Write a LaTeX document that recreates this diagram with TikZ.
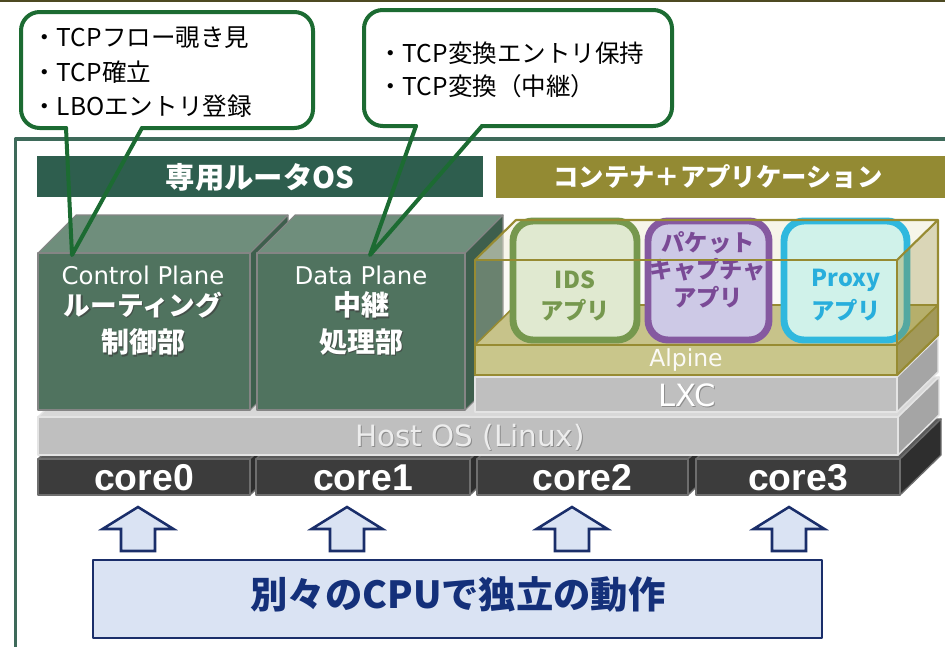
\documentclass[tikz,border=0pt]{standalone}
\usepackage{fontspec}
\setmainfont{Noto Sans CJK JP}
\newfontfamily\latinsans{DejaVu Sans}
\newfontfamily\arialike{Liberation Sans}
\definecolor{rulebar}{HTML}{4D4A22}
\definecolor{framegreen}{HTML}{3E6A5A}
\definecolor{hdgreen}{HTML}{2E5E4E}
\definecolor{hdolive}{HTML}{938A33}
\definecolor{callgreen}{HTML}{1C6B32}
\definecolor{gbfront}{HTML}{50735F}
\definecolor{gbtop}{HTML}{6F8E7C}
\definecolor{gbside}{HTML}{3E5F4D}
\definecolor{gbedge}{HTML}{858585}
\definecolor{osfront}{HTML}{BFBFBF}
\definecolor{ostop}{HTML}{D8D8D8}
\definecolor{osside}{HTML}{A5A5A5}
\definecolor{osedge}{HTML}{E4E4E4}
\definecolor{corefront}{HTML}{3C3C3C}
\definecolor{coretop}{HTML}{5A5A5A}
\definecolor{coreside}{HTML}{2E2E2E}
\definecolor{coreedge}{HTML}{6E6E6E}
\definecolor{alpfront}{HTML}{C9C68B}
\definecolor{alptop}{HTML}{C7C38A}
\definecolor{alpside}{HTML}{A9A270}
\definecolor{olivebox}{HTML}{978B32}
\definecolor{cream}{HTML}{EFEDD8}
\definecolor{idsline}{HTML}{76984E}
\definecolor{idsfill}{HTML}{E0E9D0}
\definecolor{pcline}{HTML}{8559A0}
\definecolor{pctext}{HTML}{7A4A96}
\definecolor{pcfill}{HTML}{CDC9E6}
\definecolor{pxline}{HTML}{2FB8DE}
\definecolor{pxtext}{HTML}{28AEDC}
\definecolor{pxfill}{HTML}{D0F2EA}
\definecolor{navy}{HTML}{1A2E6A}
\definecolor{navytext}{HTML}{14307A}
\definecolor{paleblue}{HTML}{DAE3F3}
\tikzset{
  calltext/.style={inner sep=0pt, anchor=west, font=\fontsize{18.4}{22}\selectfont},
  callbody/.style={draw=callgreen, line width=3pt, rounded corners=14pt, line cap=round},
  callptr/.style={draw=callgreen, line width=3pt, line cap=round, line join=round},
  hdtext/.style={inner sep=0pt, text=white, font=\bfseries\fontsize{22}{26}\selectfont},
  hdtexttwo/.style={inner sep=0pt, text=white, font=\bfseries\fontsize{19}{23}\selectfont},
  gbface/.style={draw=gbedge, line width=0.8pt},
  planetext/.style={inner sep=0pt, text=white, font=\latinsans\fontsize{18.3}{22}\selectfont},
  boldwhite/.style={inner sep=0pt, text=white, font=\bfseries\fontsize{#1}{24}\selectfont},
  boldshadow/.style={inner sep=0pt, text=black!75, opacity=0.7, font=\bfseries\fontsize{#1}{24}\selectfont},
  osface/.style={draw=osedge, line width=1.1pt},
  coreface/.style={draw=coreedge, line width=1pt},
  coretext/.style={inner sep=0pt, text=white, font=\arialike\bfseries\fontsize{28}{32}\selectfont},
  graytext/.style={inner sep=0pt, font=\latinsans\fontsize{#1}{#1}\selectfont},
  alpface/.style={draw=olivebox, line width=1.2pt},
  appbox/.style={line width=5.2pt, rounded corners=15pt},
  apptext/.style={inner sep=0pt, font=\bfseries\fontsize{17.5}{20}\selectfont},
  uparrow/.style={draw=navy, fill=paleblue, line width=1.9pt, line join=miter},
}
\begin{document}
\begin{tikzpicture}[x=0.75pt,y=-0.75pt,line join=round]
\useasboundingbox (0,0) rectangle (945,646);
\fill[white] (0,0) rectangle (945,646);

% thin rule along the top edge and the outer frame
\draw[rulebar, line width=1.8pt] (0,1.2) -- (945,1.2);
\draw[framegreen, line width=2.6pt] (15.5,650) -- (15.5,139) -- (950,139);

% section headers
\fill[hdgreen] (37,156) rectangle (483,197);
\node[hdtext] (hdos) at (260,177) {専用ルータOS};
\fill[hdolive] (496,156) rectangle (950,198);
\node[hdtexttwo] (hdapp) at (718,177) {コンテナ＋アプリケーション};

% CPU cores
\foreach \a/\b/\n in {38/250/0,256/470/1,477/688/2,696/900/3}{
  \filldraw[coreface, fill=coretop] (\a,459) -- (\a+41,419) -- (\b+41,419) -- (\b,459) -- cycle;
  \filldraw[coreface, fill=coreside] (\b,459) -- (\b+41,419) -- (\b+41,455) -- (\b,495) -- cycle;
  \filldraw[coreface, fill=corefront] (\a,459) rectangle (\b,495);
  \node[coretext] (core\n) at ({(\a+\b)/2},478) {core\n};
}

% host OS slab
\filldraw[osface, fill=ostop] (38,417) -- (79,377) -- (939,377) -- (898,417) -- cycle;
\filldraw[osface, fill=osside] (898,417) -- (939,377) -- (939,415) -- (898,455) -- cycle;
\filldraw[osface, fill=osfront] (38,417) rectangle (898,455);
\node[graytext=22, text=black!45] (hostshd) at (471.2,438.2) {Host OS (Linux)};
\node[graytext=22, text=white!93!black] (hostos) at (470,437) {Host OS (Linux)};

% control plane block
\filldraw[gbface, fill=gbtop] (38,253) -- (76,215) -- (288,215) -- (250,253) -- cycle;
\filldraw[gbface, fill=gbside] (250,253) -- (288,215) -- (288,372) -- (250,410) -- cycle;
\filldraw[gbface, fill=gbfront] (38,253) rectangle (250,410);
% data plane block
\filldraw[gbface, fill=gbtop] (257,253) -- (295,215) -- (503,215) -- (465,253) -- cycle;
\filldraw[gbface, fill=gbside] (465,253) -- (503,215) -- (503,372) -- (465,410) -- cycle;
\filldraw[gbface, fill=gbfront] (257,253) rectangle (465,410);

\node[planetext] (cp) at (143,275) {Control Plane};
\node[boldshadow=20] (cpa-s) at (144.5,306.5) {ルーティング};
\node[boldwhite=20] (cpa) at (143,305) {ルーティング};
\node[boldshadow=21] (cpb-s) at (144.5,343.5) {制御部};
\node[boldwhite=21] (cpb) at (143,342) {制御部};
\node[planetext] (dp) at (361,275) {Data Plane};
\node[boldshadow=21] (dpa-s) at (362.5,306.5) {中継};
\node[boldwhite=21] (dpa) at (361,305) {中継};
\node[boldshadow=21] (dpb-s) at (362.5,343.5) {処理部};
\node[boldwhite=21] (dpb) at (361,342) {処理部};

% LXC slab
\filldraw[osface, fill=ostop] (475,377) -- (516,337) -- (938,337) -- (897,377) -- cycle;
\filldraw[osface, fill=osside] (897,377) -- (938,337) -- (938,372) -- (897,412) -- cycle;
\filldraw[osface, fill=osfront] (475,377) rectangle (897,412);
\node[graytext=23, text=black!45] (lxcshd) at (688.2,396.2) {LXC};
\node[graytext=23, text=white] (lxc) at (687,395) {LXC};

% translucent container volume: back tint
\fill[cream, opacity=0.55] (475,260) -- (516,220) -- (938,220) -- (897,260) -- cycle;
\fill[cream, opacity=0.25] (475,260) rectangle (897,345);

% Alpine slab
\filldraw[alpface, fill=alptop] (475,345) -- (516,305) -- (938,305) -- (897,345) -- cycle;
\filldraw[alpface, fill=alpside] (897,345) -- (938,305) -- (938,335) -- (897,375) -- cycle;
\filldraw[alpface, fill=alpfront] (475,345) rectangle (897,375);
\node[graytext=17.6, text=white!92!alpfront] (alpine) at (686,360) {Alpine};

% applications
\filldraw[appbox, draw=idsline, fill=idsfill] (513,221) rectangle (637,340);
\filldraw[appbox, draw=pcline, fill=pcfill] (648,221) rectangle (769,340);
\filldraw[appbox, draw=pxline, fill=pxfill] (784,221) rectangle (907,340);
\node[apptext, text=idsline] (idsa) at (575,280) {IDS};
\node[apptext, text=idsline] (idsb) at (575,310) {アプリ};
\node[apptext, text=pctext] (pcapa) at (708,243) {パケット};
\node[apptext, text=pctext] (pcapb) at (708,270) {キャプチャ};
\node[apptext, text=pctext] (pcapc) at (708,297) {アプリ};
\node[apptext, text=pxtext] (proxya) at (846,280) {Proxy};
\node[apptext, text=pxtext] (proxyb) at (846,310) {アプリ};

% container volume: side tint and edges
\fill[olivebox, opacity=0.35] (897,260) -- (938,220) -- (938,335) -- (897,375) -- cycle;
\draw[olivebox, line width=1.6pt] (475,260) rectangle (897,375);
\draw[olivebox, line width=1.6pt] (475,260) -- (516,220) -- (938,220) -- (897,260);
\draw[olivebox, line width=1.6pt] (938,220) -- (938,335) -- (897,375);

% arrows from the note up to each core
\foreach \c in {138,347,572,789}{
  \draw[uparrow] (\c,507) -- (\c+35.5,529) -- (\c+17,529) -- (\c+17,551) -- (\c-17,551) -- (\c-17,529) -- (\c-35.5,529) -- cycle;
}

% note box
\filldraw[draw=navy, fill=paleblue, line width=1.6pt] (93,560) rectangle (822,638);
\node[inner sep=0pt, text=navytext, font=\bfseries\fontsize{28}{32}\selectfont] (note) at (458,594) {別々のCPUで独立の動作};

% callout on the control plane
\coordinate (tipa) at (72,255);
\coordinate (tipb) at (370,255);
\fill[white, rounded corners=14pt] (21,12) rectangle (313,128);
\draw[callbody] (66,128) -- (21,128) -- (21,12) -- (313,12) -- (313,128) -- (142,128);
\draw[callptr] (66,128) -- (tipa) -- (142,128);
\node[calltext] (ca1) at (32,38) {・TCPフロー覗き見};
\node[calltext] (ca2) at (32,72) {・TCP確立};
\node[calltext] (ca3) at (32,106) {・LBOエントリ登録};

% callout on the data plane
\fill[white, rounded corners=14pt] (364,10) rectangle (672,126);
\draw[callbody] (416,126) -- (364,126) -- (364,10) -- (672,10) -- (672,126) -- (482,126);
\draw[callptr] (416,126) -- (tipb) -- (482,126);
\node[calltext] (cb1) at (378,53) {・TCP変換エントリ保持};
\node[calltext] (cb2) at (378,86) {・TCP変換（中継）};
\end{tikzpicture}
\end{document}
